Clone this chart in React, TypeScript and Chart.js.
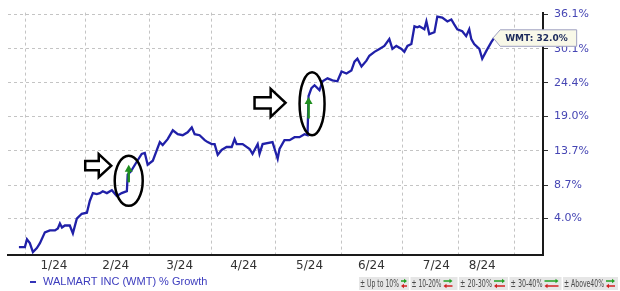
import React, { useEffect, useRef } from 'react';
import { Chart, registerables } from 'chart.js';

Chart.register(...registerables);

// ---- data (x = day offset from Jan 1 2024 on chart's time axis, y = % growth) ----
const days = [
  -3.4, -0.5, 0.5, 1.9, 3.4, 5.3, 6.8, 9.2, 11.6, 14.1,
  15.5, 16.5, 17.5, 18.9, 21.3, 22.8, 24.7, 27.1, 29.6, 31.0,
  32.5, 34.4, 35.9, 37.3, 39.3, 41.7, 44.1, 46.5, 49.0, 49.4,
  50.9, 53.8, 56.2, 57.7, 59.1, 61.6, 65.0, 66.4, 68.8, 71.3,
  73.7, 76.1, 78.5, 80.5, 81.9, 84.3, 86.8, 88.2, 90.2, 91.6,
  93.1, 95.0, 97.4, 99.9, 101.3, 102.3, 105.2, 108.6, 110.0, 112.5,
  113.4, 114.9, 119.7, 122.2, 123.1, 125.5, 128.0, 130.4, 132.8, 135.2,
  136.7, 137.2, 138.6, 140.1, 142.5, 144.0, 146.4, 148.8, 151.2, 153.2,
  155.6, 158.0, 159.5, 160.9, 162.9, 165.3, 166.7, 169.2, 171.6, 174.0,
  176.4, 177.9, 179.8, 182.3, 183.7, 185.2, 187.1, 188.6, 190.0, 191.0,
  193.4, 194.4, 195.8, 198.3, 199.7, 202.1, 204.6, 206.5, 207.9, 209.4,
  211.8, 213.7, 215.2, 216.2, 217.6, 220.1, 221.5, 223.5, 225.9, 227.3,
];

const growth = [
  0.17, 0.17, 1.21, 0.69, -0.48, 0.04, 0.69, 2.13, 2.40, 2.40,
  2.66, 3.33, 2.79, 3.06, 3.06, 2.00, 4.00, 4.67, 4.81, 6.45,
  7.56, 7.42, 7.56, 7.83, 7.56, 7.97, 7.14, 7.56, 7.83, 10.23,
  10.66, 12.10, 13.27, 13.42, 11.67, 12.25, 15.04, 14.59, 15.49, 16.84,
  16.24, 16.09, 16.54, 17.29, 16.24, 16.09, 15.34, 15.04, 14.74, 14.74,
  13.12, 13.86, 14.30, 14.30, 15.49, 14.74, 14.74, 14.00, 13.27, 14.74,
  13.27, 14.74, 15.04, 12.54, 14.00, 15.34, 15.34, 15.79, 15.79, 16.24,
  16.09, 22.25, 23.53, 24.00, 23.21, 24.65, 25.13, 24.81, 24.65, 26.27,
  25.94, 26.43, 27.91, 28.41, 27.09, 28.08, 28.91, 29.58, 30.08, 30.59,
  31.77, 30.08, 30.59, 30.08, 29.58, 30.59, 30.93, 34.01, 33.84, 34.01,
  33.49, 34.88, 32.63, 32.97, 35.76, 35.58, 34.88, 35.23, 34.36, 33.49,
  33.15, 32.29, 33.49, 31.77, 30.93, 30.08, 28.41, 29.75, 31.26, 32.0,
];

const monthStarts = [0, 29, 60, 90, 121, 153, 183, 210, 237];
const monthLabels = ['1/24', '2/24', '3/24', '4/24', '5/24', '6/24', '7/24', '8/24'];
const monthLabelDays = [13.6, 43.6, 74.6, 105.7, 137.7, 167.7, 199.2, 221.5];
const yTickValues = [4.0, 8.7, 13.7, 19.0, 24.4, 30.1, 36.1];
const xRange = [-8.7, 251];
const yRange = [-0.87, 36.46];

const seriesName = 'WALMART INC (WMT) % Growth';
const tickerLabel = 'WMT';
const bucketLabels = ['± Up to 10%', '± 10-20%', '± 20-30%', '± 30-40%', '± Above40%'];

// annotation anchors (in data units)
const highlightDays = [49.9, 138.9];
const highlightGrowth = [9.31, 21.0];
const greenArrowDays = [49.9, 137.2];
const greenArrowFrom = [9.10, 18.67];
const greenArrowTo = [11.67, 22.09];
const pointerDays = [35.1, 118.5];
const pointerGrowth = [11.52, 21.15];

const toLog = (g: number) => Math.log(1 + g / 100);

// styles for annotations
const ellipseSize = [[14, 25], [12.5, 31.5]];
const pointerSize = [[26, 23], [31, 28]];
const bucketWidths = [50, 47, 49, 52, 55];
const bucketTextW = [39, 30, 32, 32, 40];
const bucketArrowW = [6, 9, 11, 14, 9];

function blockArrow(ctx: CanvasRenderingContext2D, cx: number, cy: number, w: number, h: number) {
  const x0 = cx - w / 2;
  const x1 = cx + w / 2;
  const xh = cx + w * 0.02;
  const sh = h * 0.2;
  ctx.beginPath();
  ctx.moveTo(x0, cy - sh);
  ctx.lineTo(xh, cy - sh);
  ctx.lineTo(xh, cy - h / 2);
  ctx.lineTo(x1, cy);
  ctx.lineTo(xh, cy + h / 2);
  ctx.lineTo(xh, cy + sh);
  ctx.lineTo(x0, cy + sh);
  ctx.closePath();
  ctx.fillStyle = '#ffffff';
  ctx.fill();
  ctx.lineWidth = 2.5;
  ctx.lineJoin = 'miter';
  ctx.strokeStyle = '#000000';
  ctx.stroke();
}

function smallArrow(ctx: CanvasRenderingContext2D, x: number, y: number, len: number, dir: number, color: string) {
  const tip = dir > 0 ? x + len : x;
  const tail = dir > 0 ? x : x + len;
  ctx.strokeStyle = color;
  ctx.fillStyle = color;
  ctx.lineWidth = 1.5;
  ctx.beginPath();
  ctx.moveTo(tail, y);
  ctx.lineTo(tip - dir * 2, y);
  ctx.stroke();
  ctx.beginPath();
  ctx.moveTo(tip, y);
  ctx.lineTo(tip - dir * 3, y - 2.2);
  ctx.lineTo(tip - dir * 3, y + 2.2);
  ctx.closePath();
  ctx.fill();
}

const decorPlugin = {
  id: 'decor',
  afterDraw(chart: any) {
    const { ctx, scales, chartArea } = chart;
    const xs = scales.x;
    const ys = scales.y;
    const px = (d: number) => xs.getPixelForValue(d);
    const py = (g: number) => ys.getPixelForValue(toLog(g));
    ctx.save();

    // highlight annotations
    for (let i = 0; i < highlightDays.length; i++) {
      const gx = px(greenArrowDays[i]);
      const gy0 = py(greenArrowFrom[i]);
      const gy1 = py(greenArrowTo[i]);
      ctx.strokeStyle = '#1f8f1f';
      ctx.fillStyle = '#1f8f1f';
      ctx.lineWidth = 2.5;
      ctx.beginPath();
      ctx.moveTo(gx, gy0);
      ctx.lineTo(gx, gy1 + 5);
      ctx.stroke();
      ctx.beginPath();
      ctx.moveTo(gx, gy1);
      ctx.lineTo(gx - 4, gy1 + 7);
      ctx.lineTo(gx + 4, gy1 + 7);
      ctx.closePath();
      ctx.fill();

      ctx.beginPath();
      ctx.ellipse(px(highlightDays[i]), py(highlightGrowth[i]), ellipseSize[i][0], ellipseSize[i][1], 0, 0, Math.PI * 2);
      ctx.lineWidth = 2.5;
      ctx.strokeStyle = '#000000';
      ctx.stroke();

      blockArrow(ctx, px(pointerDays[i]), py(pointerGrowth[i]), pointerSize[i][0], pointerSize[i][1]);
    }

    // last value label
    const last = growth.length - 1;
    const lx = px(days[last]);
    const lyc = py(growth[last]);
    const text = `${tickerLabel}: ${growth[last].toFixed(1)}%`;
    ctx.font = 'bold 9px "DejaVu Sans", Verdana, sans-serif';
    const tw = ctx.measureText(text).width;
    const bx = lx + 6;
    const bw = tw + 14;
    const bt = lyc - 8;
    const bb = lyc + 8.5;
    ctx.beginPath();
    ctx.moveTo(lx - 1, lyc);
    ctx.lineTo(bx, bt);
    ctx.lineTo(bx + bw, bt);
    ctx.lineTo(bx + bw, bb);
    ctx.lineTo(bx, bb);
    ctx.closePath();
    ctx.fillStyle = '#f8f8e8';
    ctx.fill();
    ctx.lineWidth = 1;
    ctx.strokeStyle = '#9ea0c0';
    ctx.stroke();
    ctx.fillStyle = '#1c2a5c';
    ctx.textAlign = 'left';
    ctx.textBaseline = 'middle';
    ctx.fillText(text, bx + 5, lyc + 0.5);

    // series legend
    const legY = 282;
    ctx.strokeStyle = '#3434b8';
    ctx.lineWidth = 2;
    ctx.beginPath();
    ctx.moveTo(chartArea.left + 22, legY);
    ctx.lineTo(chartArea.left + 28, legY);
    ctx.stroke();
    ctx.font = '11px "Liberation Sans", Arial, sans-serif';
    ctx.fillStyle = '#3c3cbe';
    ctx.textBaseline = 'middle';
    ctx.fillText(seriesName, chartArea.left + 35, legY);

    // bucket legend
    let x = 359;
    const top = 277;
    const h = 13;
    for (let i = 0; i < bucketLabels.length; i++) {
      ctx.fillStyle = '#e6e6e6';
      ctx.fillRect(x, top, bucketWidths[i], h);
      ctx.font = '10px "Liberation Sans Narrow", "DejaVu Sans Condensed", Arial, sans-serif';
      ctx.fillStyle = '#4a4a4a';
      ctx.textBaseline = 'middle';
      ctx.fillText(bucketLabels[i], x + 1, top + h / 2 + 0.5, bucketTextW[i]);
      const ax = x + bucketTextW[i] + 3;
      smallArrow(ctx, ax, top + 4, bucketArrowW[i], 1, '#22a022');
      smallArrow(ctx, ax, top + 9, bucketArrowW[i], -1, '#d02020');
      x += bucketWidths[i] + 1.5;
    }

    ctx.restore();
  },
};

export default function App() {
  const canvasRef = useRef<HTMLCanvasElement | null>(null);

  useEffect(() => {
    const canvas = canvasRef.current;
    if (!canvas) return;
    const points = days.map((d, i) => ({ x: d, y: toLog(growth[i]) }));
    const chart = new Chart(canvas, {
      type: 'line',
      data: {
        datasets: [
          {
            label: seriesName,
            data: points,
            borderColor: '#2020a8',
            borderWidth: 2.3,
            pointRadius: 0,
            tension: 0,
            fill: false,
          },
        ],
      },
      options: {
        animation: false,
        responsive: false,
        devicePixelRatio: 1,
        layout: { padding: { left: 8, top: 8, right: 0, bottom: 0 } },
        plugins: {
          legend: { display: false },
          tooltip: { enabled: false },
        },
        scales: {
          x: {
            type: 'linear',
            position: 'bottom',
            min: xRange[0],
            max: xRange[1],
            afterBuildTicks: (s: any) => {
              s.ticks = monthStarts.map((v) => ({ value: v }));
            },
            ticks: { display: false },
            grid: { color: '#c4c4c4', lineWidth: 1, drawTicks: false },
            border: { display: true, color: '#1a1a1a', width: 2, dash: [3, 3] },
            afterFit: (s: any) => {
              s.height = 0;
            },
          },
          xl: {
            type: 'linear',
            position: 'bottom',
            min: xRange[0],
            max: xRange[1],
            afterBuildTicks: (s: any) => {
              s.ticks = monthLabelDays.map((v) => ({ value: v }));
            },
            ticks: {
              callback: (_v: any, i: number) => monthLabels[i],
              color: '#333333',
              font: { family: '"DejaVu Sans", Verdana, sans-serif', size: 12 },
              padding: 4,
              maxRotation: 0,
              autoSkip: false,
            },
            grid: { display: false, drawTicks: false },
            border: { display: false },
            afterFit: (s: any) => {
              s.height = 36;
            },
          },
          y: {
            type: 'linear',
            position: 'right',
            min: toLog(yRange[0]),
            max: toLog(yRange[1]),
            afterBuildTicks: (s: any) => {
              s.ticks = yTickValues.map((v) => ({ value: toLog(v) }));
            },
            ticks: {
              callback: (_v: any, i: number) => yTickValues[i].toFixed(1) + '%',
              color: '#4646b4',
              font: { family: '"DejaVu Sans", Verdana, sans-serif', size: 11 },
              padding: 6,
            },
            grid: { color: '#c4c4c4', lineWidth: 1, tickColor: '#333333', tickLength: 5, tickWidth: 1 },
            border: { display: true, color: '#1a1a1a', width: 2, dash: [3, 3] },
            afterFit: (s: any) => {
              s.width = 77;
            },
          },
        },
      },
      plugins: [decorPlugin],
    } as any);
    return () => chart.destroy();
  }, []);

  return (
    <div style={{ position: 'fixed', left: 0, top: 0, width: 620, height: 291, background: '#ffffff' }}>
      <canvas ref={canvasRef} width={620} height={291} style={{ width: 620, height: 291, display: 'block' }} />
    </div>
  );
}
